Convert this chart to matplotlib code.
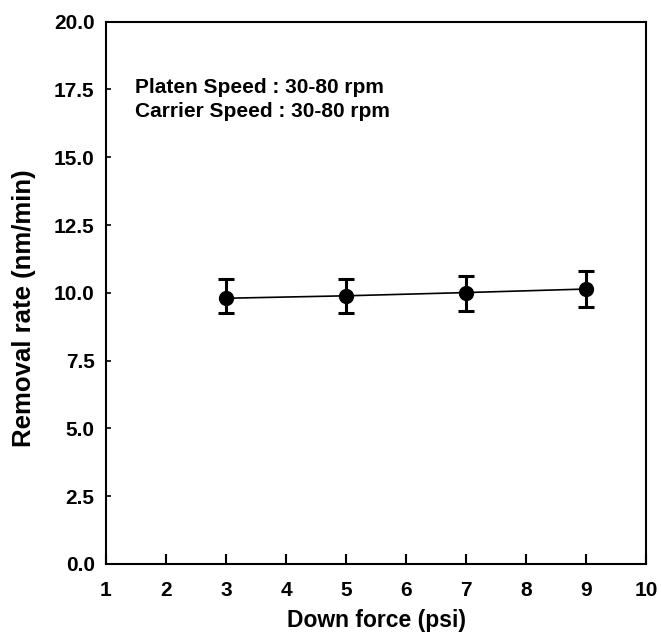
import matplotlib.pyplot as plt

# Down force vs removal rate
down_force = [3, 5, 7, 9]
removal_rate = [9.80, 9.89, 10.01, 10.14]
err_low = [0.55, 0.64, 0.67, 0.65]
err_high = [0.72, 0.63, 0.62, 0.65]

x_ticks = [1, 2, 3, 4, 5, 6, 7, 8, 9, 10]
y_ticks = [0.0, 2.5, 5.0, 7.5, 10.0, 12.5, 15.0, 17.5, 20.0]

plt.rcParams['font.family'] = ['Liberation Sans', 'DejaVu Sans']

fig = plt.figure(figsize=(6.61, 6.37), dpi=100)
ax = fig.add_axes([0.160, 0.1146, 0.818, 0.8514])

ax.errorbar(down_force, removal_rate, yerr=[err_low, err_high],
            color='black', marker='o', markersize=10, linewidth=1.2,
            elinewidth=2.2, capsize=5.5, capthick=2.2)

ax.set_xlim(1, 10)
ax.set_ylim(0, 20)
ax.set_xticks(x_ticks)
ax.set_yticks(y_ticks)
ax.set_yticklabels([f'{v:.1f}' for v in y_ticks])

for s in ax.spines.values():
    s.set_linewidth(1.5)

ax.tick_params(axis='x', direction='in', length=7, width=1.5, pad=12, labelsize=15)
ax.tick_params(axis='y', direction='in', length=3.5, width=1.2, pad=8, labelsize=15)
for lab in ax.get_xticklabels() + ax.get_yticklabels():
    lab.set_fontweight('bold')

ax.set_xlabel('Down force (psi)', fontsize=16.5, fontweight='bold', labelpad=6.5)
ax.set_ylabel('Removal rate (nm/min)', fontsize=18.5, fontweight='bold')
ax.yaxis.set_label_coords(-0.129, 0.472)

ax.text(0.055, 0.857, 'Platen Speed : 30-80 rpm\nCarrier Speed : 30-80 rpm',
        transform=ax.transAxes, fontsize=15, fontweight='bold',
        va='center', ha='left', linespacing=1.35)

fig.savefig('out.png', dpi=100)
